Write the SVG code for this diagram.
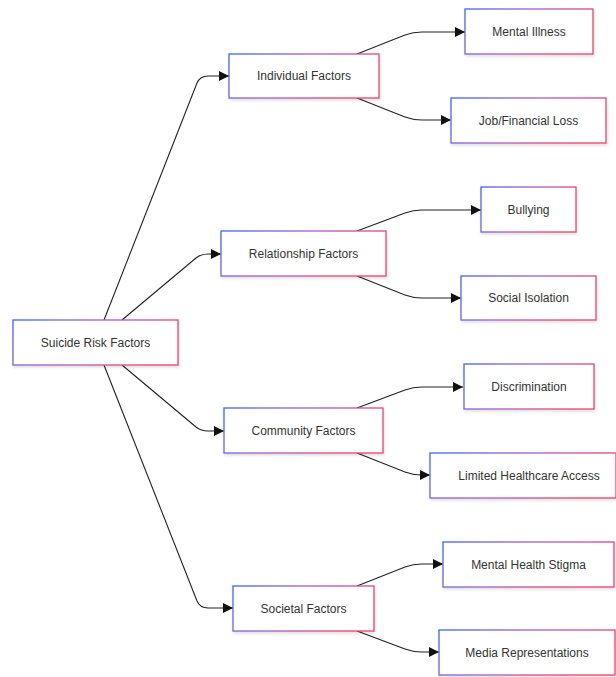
<svg xmlns="http://www.w3.org/2000/svg" width="616" height="677" viewBox="0 0 616 677">
<style>
.box{fill:#ffffff;stroke:url(#g);stroke-width:1.3;filter:url(#sh)}
.t{font-family:"Liberation Sans",Arial,sans-serif;font-size:12px;fill:#333333;text-anchor:middle;dominant-baseline:central}
.e{fill:none;stroke:#222222;stroke-width:1.1;marker-end:url(#a)}
</style>
<defs>
<linearGradient id="g" x1="0" y1="0" x2="1" y2="0.3">
<stop offset="0" stop-color="#3f64f5"/>
<stop offset="0.5" stop-color="#a45fc8"/>
<stop offset="1" stop-color="#ef3f6e"/>
</linearGradient>
<filter id="sh" x="-10%" y="-20%" width="120%" height="150%">
<feDropShadow dx="1" dy="2" stdDeviation="1.5" flood-color="#000000" flood-opacity="0.12"/>
</filter>
<marker id="a" viewBox="0 0 10 10" refX="10" refY="5" markerWidth="10" markerHeight="10" markerUnits="userSpaceOnUse" orient="auto">
<path d="M0,0 L10,5 L0,10 z" fill="#111111"/>
</marker>
</defs>
<g id="edges">
<path class="e" d="M104,320 L197,83 Q200,76 208,76 L229,76"/>
<path class="e" d="M122,320 L196,258 Q201,254 208,254 L221,254"/>
<path class="e" d="M122,365 L196,427 Q201,431 208,431 L224,431"/>
<path class="e" d="M104,365 L197,601 Q200,608 208,608 L233,608"/>
<path class="e" d="M357,54 L405,35 Q413,32 422,32 L465,32"/>
<path class="e" d="M357,98 L405,117 Q413,120 422,120 L451,120"/>
<path class="e" d="M357,231 L405,213 Q413,210 422,210 L481,210"/>
<path class="e" d="M357,276 L405,295 Q413,298 422,298 L461,298"/>
<path class="e" d="M357,408 L405,390 Q413,387 422,387 L463,387"/>
<path class="e" d="M357,453 L405,472 Q413,475 422,475 L430,475"/>
<path class="e" d="M357,586 L405,567 Q413,564 422,564 L443,564"/>
<path class="e" d="M357,631 L405,649 Q413,652 422,652 L439,652"/>
</g>
<g id="root"><rect class="box" x="13" y="320" width="165" height="45"/><text class="t" x="95.5" y="342.5">Suicide Risk Factors</text></g>
<g id="individual"><rect class="box" x="229" y="54" width="150" height="44"/><text class="t" x="304" y="76">Individual Factors</text></g>
<g id="mental-illness"><rect class="box" x="465" y="9" width="128" height="45"/><text class="t" x="529" y="31.5">Mental Illness</text></g>
<g id="job-loss"><rect class="box" x="451" y="98" width="155" height="45"/><text class="t" x="528.5" y="120.5">Job/Financial Loss</text></g>
<g id="relationship"><rect class="box" x="221" y="231" width="165" height="45"/><text class="t" x="303.5" y="253.5">Relationship Factors</text></g>
<g id="bullying"><rect class="box" x="481" y="187" width="95" height="45"/><text class="t" x="528.5" y="209.5">Bullying</text></g>
<g id="social-isolation"><rect class="box" x="461" y="276" width="135" height="44"/><text class="t" x="528.5" y="298">Social Isolation</text></g>
<g id="community"><rect class="box" x="224" y="408" width="159" height="45"/><text class="t" x="303.5" y="430.5">Community Factors</text></g>
<g id="discrimination"><rect class="box" x="464" y="364" width="130" height="45"/><text class="t" x="529" y="386.5">Discrimination</text></g>
<g id="healthcare"><rect class="box" x="430" y="453" width="186" height="45"/><text class="t" x="529" y="475.5">Limited Healthcare Access</text></g>
<g id="societal"><rect class="box" x="233" y="586" width="141" height="45"/><text class="t" x="303.5" y="608.5">Societal Factors</text></g>
<g id="stigma"><rect class="box" x="443" y="542" width="171" height="45"/><text class="t" x="528.5" y="564.5">Mental Health Stigma</text></g>
<g id="media"><rect class="box" x="439" y="630" width="176" height="45"/><text class="t" x="527" y="652.5">Media Representations</text></g>
</svg>
